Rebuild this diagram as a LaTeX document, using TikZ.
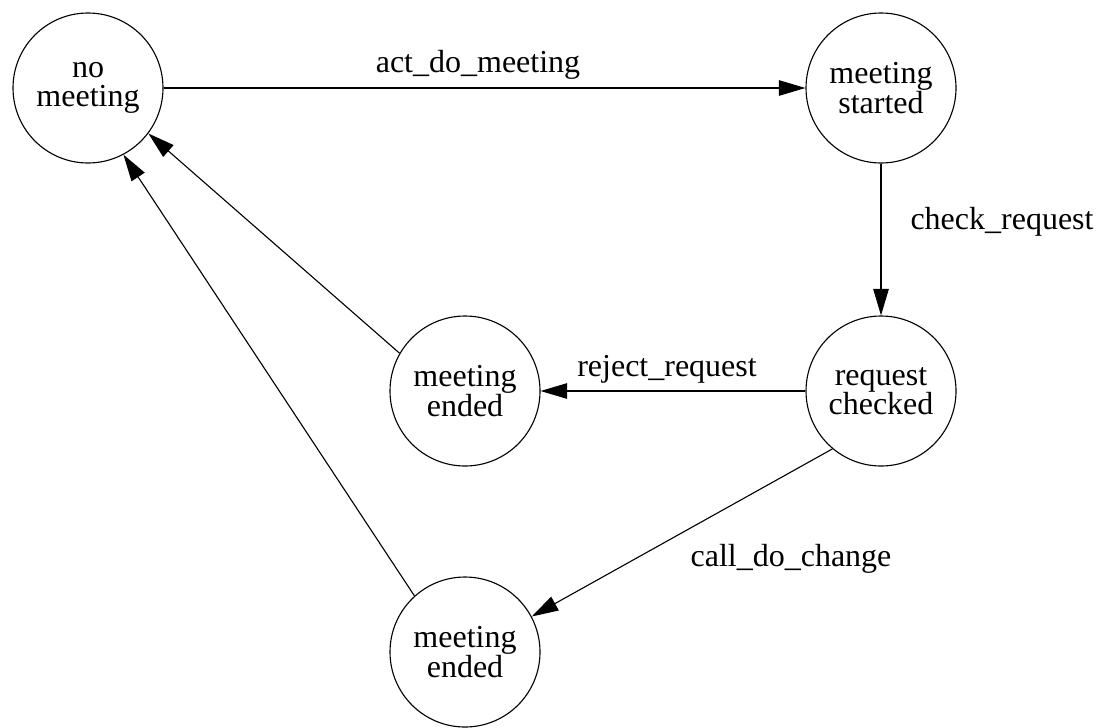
\documentclass[tikz,border=0pt]{standalone}
\usepackage{fontspec}
\setmainfont{Liberation Serif}
\usetikzlibrary{arrows.meta}

\begin{document}
\begin{tikzpicture}
[x=0.45pt,y=0.45pt,
 state/.style={draw,circle,minimum size=67.5pt,inner sep=0pt,align=center,line width=0.5pt,font=\fontsize{14.4}{13.2}\selectfont},
 lbl/.style={font=\fontsize{14.4}{13.2}\selectfont},
 >={Triangle[length=12pt,width=7pt]}]
\useasboundingbox (0,0) rectangle (1102,727);
\node[state] (nomeet) at (88,639) {no\\meeting};
\node[state] (started) at (881,639) {meeting\\started};
\node[state] (checked) at (881,336) {request\\checked};
\node[state] (ended1) at (465,336) {meeting\\ended};
\node[state] (ended2) at (465,75) {meeting\\ended};

\node[lbl] (l1) at (478,662) {act\_do\_meeting};
\node[lbl] (l2) at (1002,505) {check\_request};
\node[lbl] (l3) at (667,358) {reject\_request};
\node[lbl] (l4) at (791,168) {call\_do\_change};

\foreach \from/\to in {nomeet/started,started/checked,checked/ended1,checked.230/ended2.28,ended1.150/nomeet.323,ended2.132/nomeet.298}
\draw[->,line width=0.5pt] (\from) -- (\to);
\end{tikzpicture}
\end{document}
